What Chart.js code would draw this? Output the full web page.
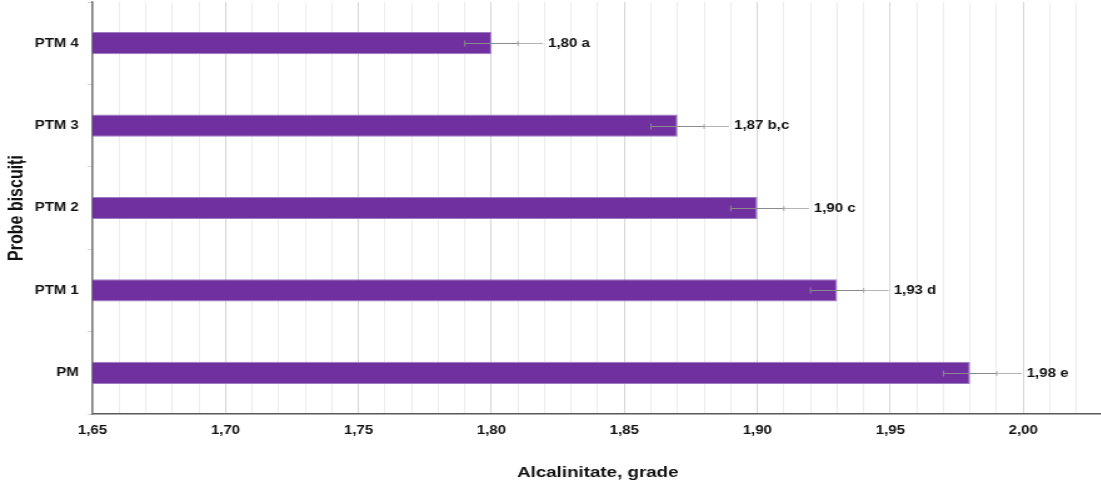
<!DOCTYPE html>
<html lang="ro">
<head>
<meta charset="utf-8">
<title>Alcalinitate probe biscuiți</title>
<script src="https://cdn.jsdelivr.net/npm/chart.js@4/dist/chart.umd.min.js"></script>
<style>
  html, body { margin: 0; padding: 0; background: #ffffff; overflow: hidden; }
  #wrap { width: 1101px; height: 483px; overflow: hidden; }
</style>
</head>
<body>
<div id="wrap">
  <!-- the chart is drawn on a narrower canvas and widened to the page width -->
  <canvas id="chart" width="882" height="483" style="display:block;width:1103px;height:483px"></canvas>
</div>
<script>
// Samples, top to bottom
const categories = ['PTM 4', 'PTM 3', 'PTM 2', 'PTM 1', 'PM'];
// Alkalinity, degrees
const alcalinity = [1.80, 1.87, 1.90, 1.93, 1.98];
// Standard deviation
const deviations = [0.01, 0.01, 0.01, 0.01, 0.01];
// Significance letters
const groups = ['a', 'b,c', 'c', 'd', 'e'];
// Value axis
const axisMin = 1.65;
const axisMax = 2.03;
const axisStep = 0.01;
const labelEvery = 0.05;

const FONT = 'Liberation Sans, Arial, Helvetica, sans-serif';
const fmt = v => v.toFixed(2).replace('.', ',');
const isMajor = v => Math.abs(Math.round(v / labelEvery) * labelEvery - v) < 1e-6;

// error bars with a leader line to the value label
const errorBarsAndLabels = {
  id: 'errorBarsAndLabels',
  afterDatasetsDraw(chart) {
    const ctx = chart.ctx;
    const xs = chart.scales.x;
    const meta = chart.getDatasetMeta(0);
    ctx.save();
    meta.data.forEach((bar, i) => {
      const v = alcalinity[i];
      const e = deviations[i];
      const y = Math.round(bar.y) + 0.5;
      const xl = xs.getPixelForValue(v - e);
      const xr = xs.getPixelForValue(v + e);
      const tx = xr + 24;

      ctx.lineWidth = 1;
      ctx.strokeStyle = '#b4b4b4';
      ctx.beginPath();
      ctx.moveTo(xr, y);
      ctx.lineTo(tx - 4, y);
      ctx.stroke();

      ctx.strokeStyle = '#8a8a8a';
      ctx.beginPath();
      ctx.moveTo(xl, y);
      ctx.lineTo(xr, y);
      ctx.moveTo(xl, y - 3);
      ctx.lineTo(xl, y + 3);
      ctx.stroke();
      ctx.strokeStyle = '#a8a8a8';
      ctx.beginPath();
      ctx.moveTo(xr, y - 2.5);
      ctx.lineTo(xr, y + 2.5);
      ctx.stroke();

      ctx.fillStyle = '#111111';
      ctx.font = 'bold 12px ' + FONT;
      ctx.textAlign = 'left';
      ctx.textBaseline = 'middle';
      ctx.fillText(fmt(v) + ' ' + groups[i], tx, bar.y + 0.5);
    });
    ctx.restore();
  }
};

new Chart(document.getElementById('chart'), {
  type: 'bar',
  data: {
    labels: categories,
    datasets: [{
      data: alcalinity,
      backgroundColor: '#7030a0',
      borderColor: '#9d7cc6',
      borderWidth: 1,
      borderSkipped: 'start',
      barPercentage: 0.27,
      categoryPercentage: 1
    }]
  },
  options: {
    indexAxis: 'y',
    responsive: false,
    devicePixelRatio: 1,
    animation: false,
    layout: { padding: { top: 2, left: 0, right: 0, bottom: 0 } },
    plugins: {
      legend: { display: false },
      tooltip: { enabled: false }
    },
    scales: {
      x: {
        type: 'linear',
        min: axisMin,
        max: axisMax,
        afterFit(scale) {
          scale.height = 69;
          scale.paddingLeft = 0;
          scale.paddingRight = 0;
        },
        ticks: {
          stepSize: axisStep,
          autoSkip: false,
          maxRotation: 0,
          padding: 9,
          color: '#111111',
          font: { family: FONT, size: 12, weight: 'bold' },
          callback: v => (isMajor(v) ? fmt(v) : '')
        },
        grid: {
          drawTicks: false,
          lineWidth: 1,
          color: c => (isMajor(c.tick.value) ? '#d6d6d6' : '#ececec')
        },
        border: { color: '#5a5a5a', width: 1.5 },
        title: {
          display: true,
          text: 'Alcalinitate, grade',
          color: '#111111',
          font: { family: FONT, size: 15, weight: 'bold' },
          padding: { top: 0, bottom: 1 }
        }
      },
      y: {
        type: 'category',
        afterFit(scale) {
          scale.width = 74;
          scale.paddingTop = 0;
          scale.paddingBottom = 0;
        },
        ticks: {
          padding: 7,
          color: '#111111',
          font: { family: FONT, size: 12, weight: 'bold' }
        },
        grid: {
          offset: true,
          drawOnChartArea: false,
          drawTicks: true,
          tickLength: 4,
          tickColor: '#d4d4d4'
        },
        border: { color: '#7a7a7a', width: 1.5 },
        title: {
          display: true,
          text: 'Probe biscuiți',
          color: '#111111',
          font: { family: FONT, size: 16, weight: 'bold' },
          padding: { top: 4, bottom: 0 }
        }
      }
    }
  },
  plugins: [errorBarsAndLabels]
});
</script>
</body>
</html>
